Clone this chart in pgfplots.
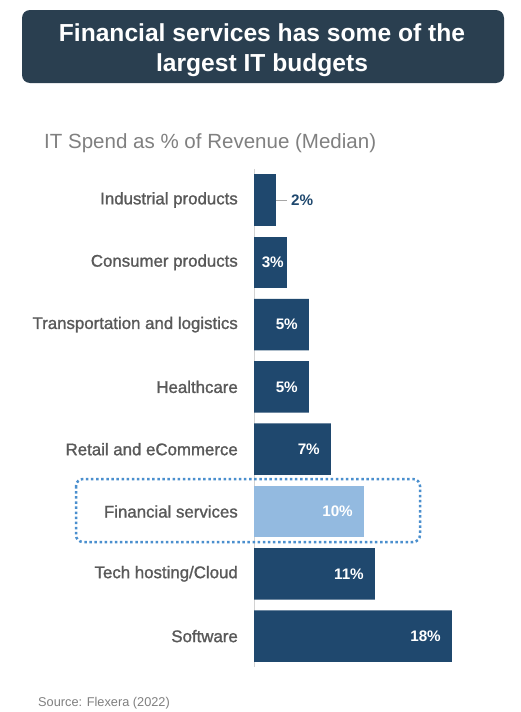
\documentclass[border=0pt]{standalone}
\usepackage{pgfplots}
\pgfplotsset{compat=1.18}
\usepackage{fontspec}
\setmainfont{Liberation Sans}
\newfontfamily\catfont[FakeBold=1.2]{Liberation Sans}

\definecolor{banner}{RGB}{42,63,80}
\definecolor{bardark}{RGB}{31,72,110}
\definecolor{barlight}{RGB}{147,186,224}
\definecolor{dotblue}{RGB}{74,143,206}
\definecolor{labgray}{RGB}{89,89,89}
\definecolor{subgray}{RGB}{128,128,128}
\definecolor{axgray}{RGB}{210,210,210}

\begin{document}
\begin{tikzpicture}
\useasboundingbox[fill=white] (0,0) rectangle (521bp,-712bp);

% title banner, subtitle, source
\begin{scope}[x=1bp,y=-1bp]
  \fill[banner, rounded corners=8bp] (22,10) rectangle (504,83);
  \node[text=white, font=\fontsize{24.7}{30}\selectfont\bfseries, anchor=base, inner sep=0pt] at (262,41) {Financial services has some of the};
  \node[text=white, font=\fontsize{24.7}{30}\selectfont\bfseries, anchor=base, inner sep=0pt] at (262,71) {largest IT budgets};
  \node[text=subgray, font=\fontsize{20.6}{24}\selectfont, anchor=base west, inner sep=0pt] at (44,148) {IT Spend as \% of Revenue (Median)};
  \node[text=subgray, font=\fontsize{12.8}{15}\selectfont, anchor=base west, inner sep=0pt] at (38,706) {Source: Flexera (2022)};
\end{scope}

\begin{axis}[
  at={(254bp,-168.85bp)}, anchor=north west,
  scale only axis, width=220bp, height=498.4bp,
  xbar, bar width=51.5bp, bar shift=0pt,
  xmin=0, xmax=20, ymin=-0.5, ymax=7.5, y dir=reverse,
  hide x axis,
  axis y line*=left,
  y axis line style={axgray, line width=1bp, -},
  ytick={0,...,7},
  yticklabels={Industrial products, Consumer products, Transportation and logistics, Healthcare, Retail and eCommerce, Financial services, Tech hosting/Cloud, Software},
  major tick length=0pt,
  yticklabel style={font=\catfont\fontsize{16.9}{20}\selectfont, text=labgray, anchor=east, inner sep=0pt, xshift=-16bp},
  clip=false,
  nodes near coords={\pgfmathprintnumber{\pgfplotspointmeta}\%},
  nodes near coords style={font=\bfseries\fontsize{15.3}{17}\selectfont, inner sep=0pt},
  /pgf/number format/assume math mode=true,
]
\addplot[fill=bardark, draw=none, bar shift=0pt,
  nodes near coords style={text=white, anchor=east, xshift=-11bp}]
  coordinates {(5,2) (5,3) (7,4) (11,6) (18,7)};
\addplot[fill=bardark, draw=none, bar shift=0pt,
  nodes near coords style={text=white, anchor=east, xshift=-3bp}]
  coordinates {(3,1)};
\addplot[fill=barlight, draw=none, bar shift=0pt,
  nodes near coords style={text=white, anchor=east, xshift=-11bp}]
  coordinates {(10,5)};
\addplot[fill=bardark, draw=none, bar shift=0pt,
  nodes near coords style={text=bardark, anchor=west, xshift=15bp}]
  coordinates {(2,0)};
\draw[gray!70, line width=0.8bp] (axis cs:2,0) -- ([xshift=11bp]axis cs:2,0);
\end{axis}

\draw[dotblue, line width=2.5bp, dash pattern=on 2.5bp off 2.6bp, rounded corners=7bp]
  (76bp,-479bp) rectangle (420bp,-542bp);
\end{tikzpicture}
\end{document}
